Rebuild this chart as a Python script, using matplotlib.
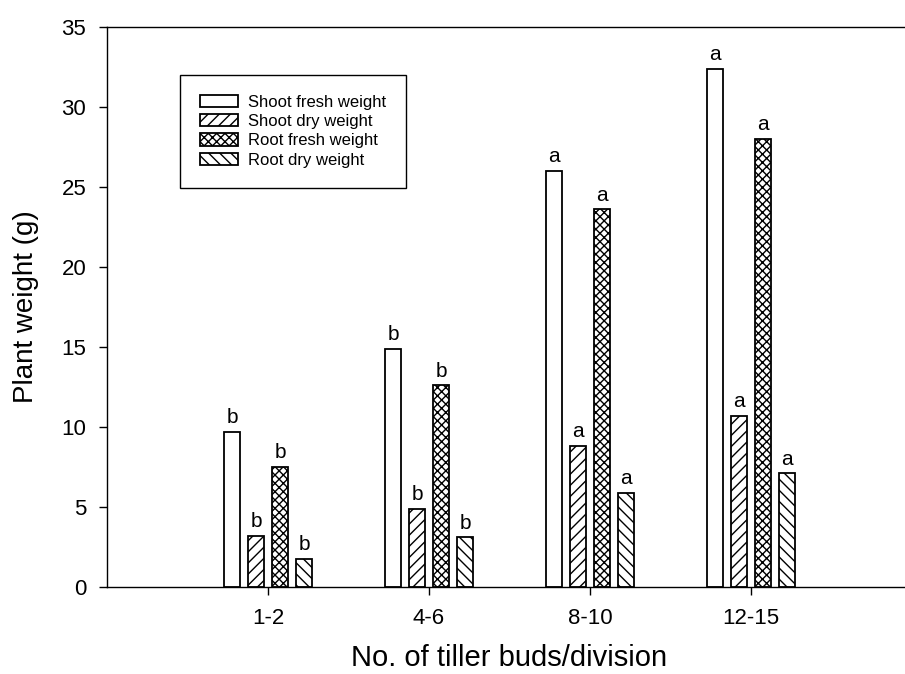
import matplotlib
matplotlib.use("Agg")
import matplotlib.pyplot as plt
import numpy as np

plt.rcParams['font.family'] = ['Liberation Sans', 'DejaVu Sans']
plt.rcParams['hatch.linewidth'] = 1.0

# data
groups = ["1-2", "4-6", "8-10", "12-15"]
series = ["Shoot fresh weight", "Shoot dry weight", "Root fresh weight", "Root dry weight"]
shoot_fresh = [9.7, 14.9, 26.0, 32.4]
shoot_dry = [3.2, 4.9, 8.8, 10.7]
root_fresh = [7.5, 12.6, 23.6, 28.0]
root_dry = [1.75, 3.1, 5.9, 7.1]
letters = [
    ["b", "b", "a", "a"],
    ["b", "b", "a", "a"],
    ["b", "b", "a", "a"],
    ["b", "b", "a", "a"],
]

values = [shoot_fresh, shoot_dry, root_fresh, root_dry]
hatches = ["", "///", "xxxx", "\\\\\\"]

fig = plt.figure(figsize=(9.05, 6.74), dpi=100)
ax = fig.add_axes([107/905, 87/674, 805/905, 560/674])

x = np.arange(1, len(groups) + 1)
step = 24/161
width = 16/161
for i, (vals, h, name) in enumerate(zip(values, hatches, series)):
    pos = x + (i - 1.5) * step
    bars = ax.bar(pos, vals, width, color="white", edgecolor="black",
                  hatch=h, linewidth=1.3, label=name)
    for b, lab in zip(bars, letters[i]):
        ax.annotate(lab, (b.get_x() + b.get_width()/2, b.get_height()),
                    xytext=(0, 3.5), textcoords="offset points",
                    ha="center", va="bottom", fontsize=15)

ax.set_xlim(0, 5)
ax.set_ylim(0, 35)
ax.set_xticks(x)
ax.set_xticklabels(groups)
ax.set_yticks(np.arange(0, 36, 5))
ax.tick_params(direction="out", length=6, width=1, labelsize=16, pad=9)
ax.set_xlabel("No. of tiller buds/division", fontsize=21, labelpad=11)
ax.set_ylabel("Plant weight (g)", fontsize=20, labelpad=16)
for s in ax.spines.values():
    s.set_linewidth(1.0)

leg = ax.legend(loc="upper left", bbox_to_anchor=(73/805, 512/560),
                borderaxespad=0, fontsize=12, fancybox=False,
                edgecolor="black", framealpha=1, handlelength=2.3,
                handleheight=0.75, labelspacing=0.25, borderpad=1.2,
                handletextpad=0.55)
leg.get_frame().set_linewidth(1.0)

fig.savefig("out.png", dpi=100)
